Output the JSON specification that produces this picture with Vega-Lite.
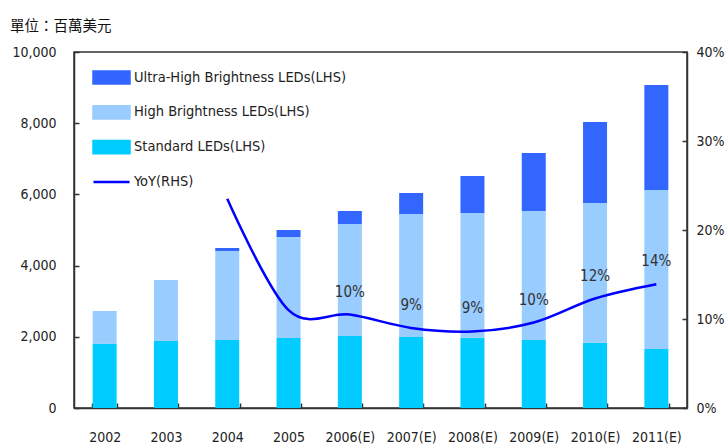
{
  "$schema": "https://vega.github.io/schema/vega-lite/v6.json",
  "width": 613,
  "height": 356,
  "autosize": "none",
  "padding": {"left": 74, "top": 52, "right": 41, "bottom": 38},
  "background": "white",
  "title": {
    "text": "單位：百萬美元",
    "anchor": "start",
    "frame": "group",
    "dx": -64,
    "offset": 11,
    "font": "Noto Sans CJK TC",
    "fontSize": 14.5,
    "fontWeight": "normal",
    "color": "#111"
  },
  "config": {
    "font": "DejaVu Sans Condensed, Liberation Sans, sans-serif",
    "view": {"stroke": "#333", "strokeWidth": 1.5},
    "axis": {
      "domainColor": "#333",
      "domainWidth": 1.5,
      "tickColor": "#333",
      "tickWidth": 1.5,
      "grid": false,
      "labelFontSize": 14,
      "labelColor": "#222",
      "labelFont": "DejaVu Sans Condensed, Liberation Sans, sans-serif",
      "title": null
    },
    "legend": {"labelFont": "DejaVu Sans Condensed, Liberation Sans, sans-serif"}
  },
  "datasets": {
    "bars": [
      {"year": "2002", "series": "Standard LEDs(LHS)", "value": 1800, "layer": 1},
      {"year": "2002", "series": "High Brightness LEDs(LHS)", "value": 925, "layer": 2},
      {"year": "2002", "series": "Ultra-High Brightness LEDs(LHS)", "value": 0, "layer": 3},
      {"year": "2003", "series": "Standard LEDs(LHS)", "value": 1880, "layer": 1},
      {"year": "2003", "series": "High Brightness LEDs(LHS)", "value": 1716, "layer": 2},
      {"year": "2003", "series": "Ultra-High Brightness LEDs(LHS)", "value": 0, "layer": 3},
      {"year": "2004", "series": "Standard LEDs(LHS)", "value": 1910, "layer": 1},
      {"year": "2004", "series": "High Brightness LEDs(LHS)", "value": 2500, "layer": 2},
      {"year": "2004", "series": "Ultra-High Brightness LEDs(LHS)", "value": 84, "layer": 3},
      {"year": "2005", "series": "Standard LEDs(LHS)", "value": 1966, "layer": 1},
      {"year": "2005", "series": "High Brightness LEDs(LHS)", "value": 2837, "layer": 2},
      {"year": "2005", "series": "Ultra-High Brightness LEDs(LHS)", "value": 197, "layer": 3},
      {"year": "2006(E)", "series": "Standard LEDs(LHS)", "value": 2022, "layer": 1},
      {"year": "2006(E)", "series": "High Brightness LEDs(LHS)", "value": 3147, "layer": 2},
      {"year": "2006(E)", "series": "Ultra-High Brightness LEDs(LHS)", "value": 365, "layer": 3},
      {"year": "2007(E)", "series": "Standard LEDs(LHS)", "value": 1995, "layer": 1},
      {"year": "2007(E)", "series": "High Brightness LEDs(LHS)", "value": 3454, "layer": 2},
      {"year": "2007(E)", "series": "Ultra-High Brightness LEDs(LHS)", "value": 590, "layer": 3},
      {"year": "2008(E)", "series": "Standard LEDs(LHS)", "value": 1970, "layer": 1},
      {"year": "2008(E)", "series": "High Brightness LEDs(LHS)", "value": 3508, "layer": 2},
      {"year": "2008(E)", "series": "Ultra-High Brightness LEDs(LHS)", "value": 1039, "layer": 3},
      {"year": "2009(E)", "series": "Standard LEDs(LHS)", "value": 1910, "layer": 1},
      {"year": "2009(E)", "series": "High Brightness LEDs(LHS)", "value": 3624, "layer": 2},
      {"year": "2009(E)", "series": "Ultra-High Brightness LEDs(LHS)", "value": 1629, "layer": 3},
      {"year": "2010(E)", "series": "Standard LEDs(LHS)", "value": 1830, "layer": 1},
      {"year": "2010(E)", "series": "High Brightness LEDs(LHS)", "value": 3928, "layer": 2},
      {"year": "2010(E)", "series": "Ultra-High Brightness LEDs(LHS)", "value": 2276, "layer": 3},
      {"year": "2011(E)", "series": "Standard LEDs(LHS)", "value": 1660, "layer": 1},
      {"year": "2011(E)", "series": "High Brightness LEDs(LHS)", "value": 4464, "layer": 2},
      {"year": "2011(E)", "series": "Ultra-High Brightness LEDs(LHS)", "value": 2949, "layer": 3}
    ],
    "yoy": [
      {"year": "2004", "yoy": 23.5, "label": ""},
      {"year": "2005", "yoy": 11.0, "label": ""},
      {"year": "2006(E)", "yoy": 10.5, "label": "10%"},
      {"year": "2007(E)", "yoy": 9.0, "label": "9%"},
      {"year": "2008(E)", "yoy": 8.6, "label": "9%"},
      {"year": "2009(E)", "yoy": 9.6, "label": "10%"},
      {"year": "2010(E)", "yoy": 12.3, "label": "12%"},
      {"year": "2011(E)", "yoy": 13.9, "label": "14%"}
    ]
  },
  "encoding": {
    "x": {
      "field": "year",
      "type": "nominal",
      "sort": ["2002", "2003", "2004", "2005", "2006(E)", "2007(E)", "2008(E)", "2009(E)", "2010(E)", "2011(E)"],
      "scale": {"domain": ["2002", "2003", "2004", "2005", "2006(E)", "2007(E)", "2008(E)", "2009(E)", "2010(E)", "2011(E)"], "paddingInner": 0.6, "paddingOuter": 0.3},
      "axis": {"labelAngle": 0, "tickBand": "extent", "tickSize": -5, "labelPadding": 34, "labelBaseline": "middle"}
    }
  },
  "layer": [
    {
      "data": {"name": "bars"},
      "mark": {"type": "bar", "size": 24},
      "encoding": {
        "y": {
          "field": "value",
          "type": "quantitative",
          "stack": "zero",
          "scale": {"domain": [0, 10000], "nice": false},
          "axis": {"values": [0, 2000, 4000, 6000, 8000, 10000], "format": ",d", "tickSize": -5, "labelPadding": 23, "orient": "left"}
        },
        "color": {
          "field": "series",
          "type": "nominal",
          "scale": {
            "domain": ["Ultra-High Brightness LEDs(LHS)", "High Brightness LEDs(LHS)", "Standard LEDs(LHS)", "YoY(RHS)"],
            "range": ["#3366FF", "#99CCFF", "#00CCFF", "#0000FF"]
          },
          "legend": {
            "orient": "none",
            "legendX": 18,
            "legendY": 6,
            "title": null,
            "symbolSize": 1296,
            "rowPadding": 3.8,
            "labelFontSize": 14.5,
            "labelColor": "#222",
            "labelOffset": 3,
            "labelLimit": 400,
            "encode": {
              "symbols": {
                "update": {
                  "shape": {"signal": "datum.label === 'YoY(RHS)' ? 'stroke' : 'M-1,-0.34H1V0.34H-1Z'"},
                  "fill": {"signal": "datum.label === 'YoY(RHS)' ? 'transparent' : (datum.label === 'Standard LEDs(LHS)' ? '#00CCFF' : (datum.label === 'High Brightness LEDs(LHS)' ? '#99CCFF' : '#3366FF'))"},
                  "stroke": {"signal": "datum.label === 'YoY(RHS)' ? '#0000FF' : 'transparent'"},
                  "strokeWidth": {"value": 2.5},
                  "opacity": {"value": 1}
                }
              }
            }
          }
        },
        "order": {"field": "layer", "type": "quantitative"}
      }
    },
    {
      "data": {"name": "yoy"},
      "layer": [
        {
          "mark": {"type": "line", "strokeWidth": 2.5, "interpolate": "cardinal"},
          "encoding": {
            "y": {
              "field": "yoy",
              "type": "quantitative",
              "scale": {"domain": [0, 40], "nice": false},
              "axis": {"orient": "right", "values": [0, 10, 20, 30, 40], "labelExpr": "datum.value + '%'", "tickSize": -5, "labelPadding": 14}
            },
            "color": {"datum": "YoY(RHS)"}
          }
        },
        {
          "mark": {"type": "text", "fontSize": 15, "color": "#333", "dy": -23, "font": "DejaVu Sans Condensed, Liberation Sans, sans-serif"},
          "encoding": {
            "y": {"field": "yoy", "type": "quantitative"},
            "text": {"field": "label"}
          }
        }
      ]
    }
  ],
  "resolve": {"scale": {"y": "independent"}}
}
